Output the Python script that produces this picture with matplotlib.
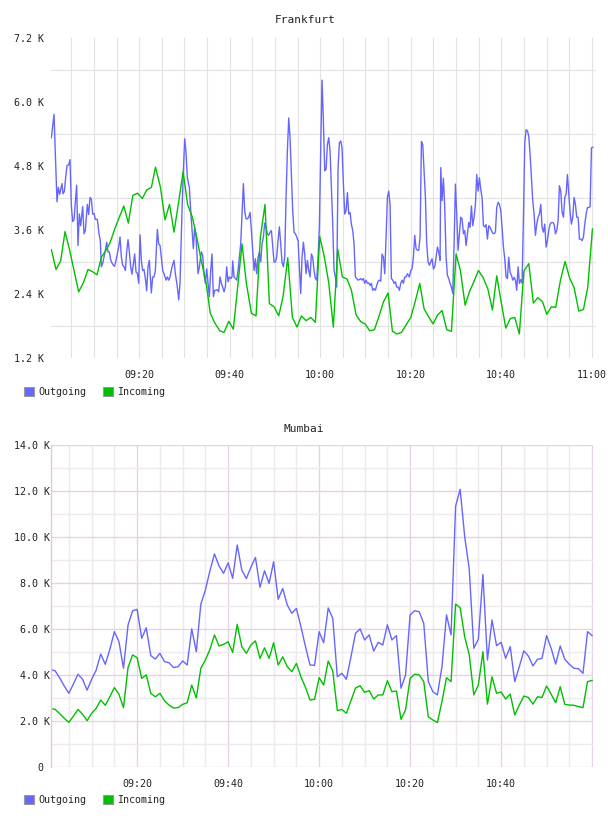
import matplotlib
matplotlib.use("Agg")
import matplotlib.pyplot as plt
from matplotlib.patches import Patch

# times are minutes after 09:00, values are in K

# Frankfurt outgoing
fra_out_t = [0.59, 1.18, 1.47, 1.84, 2.13, 2.43, 2.65, 2.94, 3.16, 3.46,
             3.75, 4.05, 4.42, 4.71, 5.01, 5.30, 5.60, 6.18, 6.48, 6.77,
             7.07, 7.51, 7.81, 8.10, 8.54, 8.84, 9.13, 9.43, 9.72, 10.02,
             10.31, 10.75, 11.12, 11.41, 11.64, 11.93, 12.22, 12.52, 12.81, 13.11,
             13.40, 13.70, 13.99, 14.29, 14.58, 15.02, 15.47, 15.76, 16.06, 16.35,
             16.65, 16.94, 17.23, 17.53, 17.82, 18.12, 18.41, 18.71, 19.00, 19.30,
             19.59, 19.89, 20.18, 20.48, 20.77, 21.07, 21.36, 21.65, 21.95, 22.24,
             22.68, 22.98, 23.27, 23.57, 24.01, 24.30, 24.60, 24.89, 25.19, 25.48,
             25.93, 26.22, 26.52, 26.81, 27.25, 27.69, 27.99, 28.43, 28.73, 29.02,
             29.46, 29.76, 30.05, 30.35, 30.64, 31.08, 31.38, 31.67, 31.97, 32.26,
             32.56, 33.00, 33.29, 33.73, 34.03, 34.32, 34.62, 34.91, 35.21, 35.50,
             35.80, 36.09, 36.39, 36.68, 36.98, 37.27, 37.56, 37.86, 38.15, 38.45,
             38.74, 39.04, 39.33, 39.63, 39.92, 40.22, 40.51, 40.66, 40.96, 41.25,
             41.55, 41.84, 42.13, 42.43, 42.72, 43.02, 43.31, 43.61, 43.90, 44.20,
             44.49, 44.79, 45.08, 45.38, 45.67, 45.96, 46.26, 46.55, 46.85, 47.14,
             47.44, 47.73, 48.03, 48.32, 48.62, 48.91, 49.21, 49.50, 49.80, 50.09,
             50.38, 50.68, 50.97, 51.27, 51.56, 51.86, 52.15, 52.45, 52.74, 53.04,
             53.33, 53.63, 53.92, 54.21, 54.51, 54.80, 55.10, 55.39, 55.69, 55.98,
             56.28, 56.57, 56.87, 57.16, 57.46, 57.75, 58.05, 58.34, 58.63, 58.93,
             59.22, 59.52, 59.81, 60.11, 60.40, 60.70, 60.99, 61.29, 61.58, 61.88,
             62.17, 62.46, 62.76, 63.05, 63.35, 63.64, 63.94, 64.23, 64.53, 64.82,
             65.12, 65.41, 65.71, 66.00, 66.30, 66.59, 66.88, 67.18, 67.47, 67.77,
             68.06, 68.36, 68.65, 68.95, 69.24, 69.54, 69.83, 70.13, 70.42, 70.71,
             71.01, 71.30, 71.60, 71.89, 72.19, 72.48, 72.78, 73.07, 73.37, 73.66,
             73.96, 74.25, 74.55, 74.84, 75.13, 75.43, 75.72, 76.02, 76.31, 76.61,
             76.90, 77.20, 77.49, 77.79, 78.08, 78.38, 78.67, 78.96, 79.26, 79.70,
             80.00, 80.29, 80.59, 80.88, 81.18, 81.47, 81.77, 82.06, 82.36, 82.65,
             82.95, 83.24, 83.53, 83.83, 84.12, 84.42, 84.71, 85.01, 85.30, 85.60,
             85.89, 86.19, 86.48, 86.63, 86.92, 87.22, 87.51, 87.81, 88.10, 88.40,
             88.69, 88.99, 89.28, 89.58, 89.87, 90.16, 90.46, 90.75, 91.05, 91.34,
             91.64, 91.93, 92.23, 92.52, 92.82, 93.11, 93.41, 93.70, 93.99, 94.29,
             94.58, 94.88, 95.17, 95.47, 95.76, 96.06, 96.35, 96.65, 96.94, 97.24,
             97.53, 97.83, 98.12, 98.41, 98.71, 99.00, 99.30, 99.59, 99.89, 100.18,
             100.48, 100.77, 101.07, 101.36, 101.66, 101.95, 102.25, 102.54, 102.83, 103.13,
             103.42, 103.72, 104.01, 104.31, 104.60, 104.90, 105.19, 105.49, 105.78, 106.08,
             106.37, 106.66, 106.96, 107.25, 107.55, 107.84, 108.14, 108.43, 108.73, 109.02,
             109.32, 109.61, 109.91, 110.20, 110.49, 110.79, 111.08, 111.38, 111.67, 111.97,
             112.26, 112.56, 112.85, 113.15, 113.44, 113.74, 114.03, 114.33, 114.62, 114.92,
             115.21, 115.50, 115.80, 116.09, 116.39, 116.68, 116.98, 117.27, 117.57, 117.86,
             118.16, 118.45, 118.75, 119.04, 119.34, 119.63, 119.93, 120.22]
fra_out_v = [5.33, 5.77, 5.02, 4.13, 4.40, 4.27, 4.36, 4.47, 4.28, 4.32,
             4.58, 4.81, 4.82, 4.92, 4.05, 3.76, 3.79, 4.44, 3.31, 3.90,
             3.68, 4.04, 3.53, 3.59, 4.08, 3.89, 4.21, 4.18, 3.90, 3.91,
             3.80, 3.80, 3.53, 3.40, 2.91, 2.97, 3.09, 3.22, 3.37, 3.19,
             3.19, 3.04, 2.98, 2.94, 2.92, 3.09, 3.28, 3.47, 3.09, 2.94,
             2.91, 2.84, 3.19, 3.42, 3.19, 2.91, 2.77, 2.97, 3.15, 2.81,
             2.79, 2.60, 3.51, 3.02, 2.84, 2.86, 2.69, 2.46, 2.91, 3.03,
             2.42, 2.72, 2.72, 2.84, 3.61, 3.34, 3.31, 3.09, 2.84, 2.78,
             2.66, 2.72, 2.66, 2.72, 2.91, 3.03, 2.78, 2.53, 2.29, 2.60,
             3.96, 4.71, 5.31, 5.05, 4.58, 4.40, 3.96, 3.62, 3.25, 3.65,
             3.47, 2.78, 2.91, 3.19, 3.12, 2.78, 2.60, 2.87, 2.60, 2.35,
             2.84, 3.15, 2.35, 2.47, 2.47, 2.48, 2.44, 2.72, 2.60, 2.53,
             2.44, 2.53, 2.91, 2.63, 2.72, 2.69, 2.72, 3.02, 2.72, 2.69,
             2.66, 2.84, 3.09, 3.34, 3.90, 4.47, 3.96, 3.81, 3.81, 3.84,
             3.93, 3.59, 3.22, 2.84, 3.06, 2.78, 3.09, 3.19, 3.00, 3.34,
             3.47, 3.73, 3.65, 3.53, 3.50, 3.56, 3.59, 3.31, 3.00, 3.00,
             3.09, 3.40, 3.66, 3.34, 3.00, 2.91, 3.09, 4.21, 5.08, 5.70,
             5.33, 4.64, 3.96, 3.56, 3.53, 3.47, 3.40, 2.91, 2.41, 3.09,
             3.37, 3.15, 2.78, 3.03, 2.84, 2.72, 3.15, 3.09, 2.84, 2.69,
             2.66, 3.09, 3.65, 5.14, 6.41, 5.64, 4.71, 4.74, 5.20, 5.33,
             5.08, 4.40, 3.71, 2.84, 2.72, 2.53, 4.77, 5.23, 5.27, 5.14,
             4.46, 3.90, 3.96, 4.30, 3.90, 3.93, 3.71, 3.59, 3.34, 2.72,
             2.69, 2.66, 2.67, 2.69, 2.66, 2.69, 2.60, 2.66, 2.60, 2.61,
             2.56, 2.60, 2.47, 2.50, 2.47, 2.56, 2.64, 2.66, 2.64, 3.15,
             3.09, 2.78, 3.47, 4.21, 4.33, 4.08, 2.69, 2.66, 2.60, 2.63,
             2.53, 2.53, 2.47, 2.60, 2.66, 2.60, 2.72, 2.72, 2.78, 2.72,
             2.84, 2.87, 3.09, 3.50, 3.25, 3.22, 3.22, 3.47, 5.26, 5.20,
             4.71, 4.21, 3.34, 3.00, 2.94, 3.00, 3.06, 2.87, 2.91, 3.09,
             3.28, 3.19, 3.03, 4.77, 4.15, 4.57, 4.02, 3.09, 2.75, 2.69,
             2.60, 2.53, 2.41, 3.34, 4.46, 3.90, 3.22, 3.53, 3.84, 3.81,
             3.53, 3.59, 3.31, 3.53, 3.74, 3.65, 4.05, 3.68, 3.84, 4.08,
             4.64, 4.33, 4.58, 4.36, 4.21, 3.68, 3.66, 3.70, 3.43, 3.68,
             3.65, 3.59, 3.54, 3.53, 3.56, 4.02, 4.12, 4.08, 3.96, 3.65,
             3.28, 3.06, 2.72, 2.69, 3.09, 2.81, 2.75, 2.66, 2.71, 2.66,
             2.47, 2.91, 2.60, 2.67, 2.60, 3.84, 5.23, 5.48, 5.46, 5.36,
             5.02, 4.58, 4.15, 3.90, 3.50, 3.71, 3.84, 3.90, 4.08, 3.65,
             3.56, 3.71, 3.28, 3.40, 3.59, 3.71, 3.74, 3.74, 3.71, 3.53,
             3.59, 3.77, 4.43, 4.33, 3.93, 3.84, 4.21, 4.27, 4.64, 4.27,
             3.93, 3.71, 3.84, 4.21, 4.08, 3.84, 3.84, 3.43, 3.43, 3.40,
             3.47, 3.71, 3.90, 4.02, 4.02, 4.04, 5.14, 5.15]

# Frankfurt incoming
fra_in_t = [0.59, 1.62, 2.65, 3.61, 4.64, 5.60, 6.63, 7.66, 8.69, 9.65,
            10.68, 11.64, 12.67, 13.60, 14.60, 15.60, 16.60, 17.60, 18.60, 19.67,
            20.70, 21.65, 22.70, 23.60, 24.70, 25.70, 26.70, 27.70, 28.70, 29.70,
            30.70, 31.75, 32.70, 33.70, 34.80, 35.70, 36.75, 37.80, 38.75, 39.80,
            40.80, 41.69, 42.72, 43.68, 44.79, 45.82, 46.77, 47.80, 48.76, 49.80,
            50.83, 51.78, 52.82, 53.85, 54.88, 55.84, 56.87, 57.90, 58.93, 59.89,
            60.92, 61.88, 62.90, 63.87, 64.90, 65.93, 66.89, 67.92, 68.95, 69.90,
            70.94, 71.97, 72.93, 73.96, 74.99, 75.95, 76.98, 77.94, 78.97, 80.00,
            80.96, 81.99, 82.95, 83.98, 84.93, 85.97, 86.92, 87.95, 88.99, 90.02,
            90.98, 92.01, 92.96, 94.00, 94.95, 95.98, 97.02, 98.05, 99.00, 100.04,
            101.00, 102.00, 102.98, 104.00, 105.00, 106.08, 107.10, 108.07, 109.10, 110.05,
            111.09, 112.04, 113.08, 114.10, 115.14, 116.10, 117.13, 118.16, 119.10, 120.15]
fra_in_v = [3.23, 2.86, 3.02, 3.57, 3.22, 2.84, 2.44, 2.61, 2.86, 2.82,
            2.76, 3.09, 3.22, 3.37, 3.62, 3.84, 4.05, 3.73, 4.25, 4.29,
            4.19, 4.35, 4.40, 4.78, 4.40, 3.79, 4.08, 3.56, 4.12, 4.69,
            4.08, 3.84, 3.47, 3.03, 2.60, 2.04, 1.85, 1.71, 1.68, 1.89,
            1.74, 2.47, 3.34, 2.60, 2.04, 1.99, 3.46, 4.08, 2.22, 2.16,
            1.99, 2.35, 3.08, 1.96, 1.78, 1.99, 1.90, 1.96, 1.87, 3.48,
            3.09, 2.61, 1.78, 3.24, 2.72, 2.68, 2.47, 2.01, 1.88, 1.84,
            1.71, 1.73, 1.97, 2.25, 2.42, 1.70, 1.65, 1.68, 1.82, 1.96,
            2.25, 2.60, 2.12, 1.97, 1.84, 2.01, 2.09, 1.73, 1.70, 3.15,
            2.84, 2.19, 2.44, 2.64, 2.84, 2.71, 2.50, 2.10, 2.74, 2.22,
            1.76, 1.94, 1.96, 1.65, 2.83, 2.97, 2.23, 2.33, 2.26, 2.02,
            2.16, 2.15, 2.66, 3.01, 2.69, 2.52, 2.08, 2.11, 2.52, 3.62]

# Mumbai, one sample per minute from 09:01 to 11:00
mum_t = list(range(1, 121))
mum_out_v = [4.23, 4.16, 3.85, 3.50, 3.19, 3.60, 4.02, 3.80, 3.33, 3.80,
             4.20, 4.90, 4.45, 5.10, 5.87, 5.44, 4.28, 6.16, 6.78, 6.84,
             5.58, 6.04, 4.83, 4.68, 4.93, 4.57, 4.52, 4.31, 4.35, 4.60,
             4.42, 5.99, 5.00, 7.07, 7.68, 8.52, 9.25, 8.73, 8.41, 8.86,
             8.19, 9.64, 8.55, 8.18, 8.67, 9.10, 7.80, 8.52, 7.97, 8.91,
             7.28, 7.75, 7.03, 6.67, 6.88, 6.09, 5.22, 4.42, 4.41, 5.87,
             5.39, 6.90, 6.45, 3.91, 4.06, 3.80, 4.78, 5.80, 5.99, 5.51,
             5.73, 5.03, 5.41, 5.29, 6.17, 5.51, 5.70, 3.41, 3.99, 6.60,
             6.78, 6.74, 6.23, 3.70, 3.26, 3.12, 4.35, 6.60, 5.73, 11.33,
             12.06, 10.00, 8.58, 5.15, 5.54, 8.36, 4.64, 6.38, 5.26, 5.41,
             4.71, 5.22, 3.70, 4.35, 5.04, 4.81, 4.38, 4.67, 4.71, 5.70,
             5.15, 4.46, 5.25, 4.67, 4.45, 4.28, 4.26, 4.06, 5.87, 5.70]
mum_in_v = [2.52, 2.49, 2.30, 2.10, 1.93, 2.20, 2.49, 2.28, 2.00, 2.32,
            2.54, 2.90, 2.67, 3.04, 3.44, 3.15, 2.57, 4.31, 4.86, 4.74,
            3.84, 3.99, 3.19, 3.04, 3.19, 2.87, 2.68, 2.55, 2.57, 2.71,
            2.78, 3.55, 2.99, 4.28, 4.64, 5.10, 5.73, 5.25, 5.32, 5.43,
            4.97, 6.19, 5.22, 4.93, 5.29, 5.47, 4.71, 5.17, 4.71, 5.39,
            4.42, 4.78, 4.35, 4.13, 4.49, 3.91, 3.45, 2.90, 2.93, 3.87,
            3.55, 4.59, 4.16, 2.44, 2.49, 2.32, 2.87, 3.42, 3.52, 3.23,
            3.31, 2.94, 3.12, 3.12, 3.74, 3.26, 3.29, 2.06, 2.47, 3.84,
            4.02, 3.99, 3.70, 2.17, 2.03, 1.92, 2.83, 3.87, 3.70, 7.07,
            6.91, 5.65, 4.86, 3.12, 3.55, 5.00, 2.72, 3.91, 3.19, 3.25,
            2.94, 3.16, 2.25, 2.68, 3.07, 3.01, 2.72, 3.04, 3.01, 3.51,
            3.15, 2.78, 3.48, 2.71, 2.68, 2.67, 2.61, 2.57, 3.70, 3.75]

time_ticks = [20, 40, 60, 80, 100, 120]
fra_time_labels = ['09:20', '09:40', '10:00', '10:20', '10:40', '11:00']
mum_time_labels = ['09:20', '09:40', '10:00', '10:20', '10:40', '']
fra_y_ticks = [1.2, 2.4, 3.6, 4.8, 6.0, 7.2]
fra_y_labels = ['1.2 K', '2.4 K', '3.6 K', '4.8 K', '6.0 K', '7.2 K']
mum_y_ticks = [0, 2, 4, 6, 8, 10, 12, 14]
mum_y_labels = ['0 ', '2.0 K', '4.0 K', '6.0 K', '8.0 K', '10.0 K', '12.0 K', '14.0 K']
series_names = ['Outgoing', 'Incoming']

BLUE = '#6666ff'
GREEN = '#00c000'
TXT = '#222222'

plt.rcParams['font.family'] = 'DejaVu Sans Mono'
W, H = 608, 816
fig = plt.figure(figsize=(W / 100, H / 100), dpi=100)

# ---- Frankfurt ----
ax1 = fig.add_axes([51.4 / W, 1 - 358 / H, 544.9 / W, 320 / H])
ax1.plot(fra_out_t, fra_out_v, color=BLUE, lw=1.0)
ax1.plot(fra_in_t, fra_in_v, color=GREEN, lw=1.0)
ax1.set_xlim(0.6, 121.0)
ax1.set_ylim(1.2, 7.2)
ax1.set_xticks(time_ticks)
ax1.set_xticklabels(fra_time_labels)
ax1.set_xticks(range(5, 121, 5), minor=True)
ax1.set_yticks(fra_y_ticks)
ax1.set_yticklabels(fra_y_labels)
ax1.set_yticks([1.8, 3.0, 4.2, 5.4, 6.6], minor=True)
ax1.grid(True, which='minor', color='#e2e2e2', lw=0.8)
ax1.grid(True, which='major', axis='x', color='#e2e2e2', lw=0.8)
ax1.set_axisbelow(True)
for s in ax1.spines.values():
    s.set_visible(False)
ax1.tick_params(which='both', length=0, labelsize=7.2, labelcolor=TXT)
ax1.tick_params(axis='y', pad=5.5)
ax1.tick_params(axis='x', pad=8.5)

# ---- Mumbai ----
ax2 = fig.add_axes([50.7 / W, 1 - 766.7 / H, 542.3 / W, 322 / H])
ax2.plot(mum_t, mum_out_v, color=BLUE, lw=1.0)
ax2.plot(mum_t, mum_in_v, color=GREEN, lw=1.0)
ax2.set_xlim(1.0, 120.2)
ax2.set_ylim(0, 14)
ax2.set_xticks(time_ticks)
ax2.set_xticklabels(mum_time_labels)
ax2.set_xticks(range(5, 121, 5), minor=True)
ax2.set_yticks(mum_y_ticks)
ax2.set_yticklabels(mum_y_labels)
ax2.set_yticks(range(1, 14, 2), minor=True)
ax2.grid(True, which='minor', color='#efeaef', lw=1.0)
ax2.grid(True, which='major', color='#e6d2e6', lw=1.0)
ax2.set_axisbelow(True)
for k, s in ax2.spines.items():
    if k == 'left':
        s.set_color('#e0c8e0')
        s.set_linewidth(1.0)
    else:
        s.set_visible(False)
ax2.tick_params(which='both', length=0, labelsize=7.2, labelcolor=TXT)
ax2.tick_params(axis='y', pad=0.5)
ax2.tick_params(axis='x', pad=8.5)

# titles
fig.text(305 / W, 1 - 20 / H, 'Frankfurt', ha='center', va='center', fontsize=8, color=TXT)
fig.text(304 / W, 1 - 429 / H, 'Mumbai', ha='center', va='center', fontsize=8, color=TXT)

# legends
for ypix in (392, 800):
    handles = [Patch(facecolor=BLUE, edgecolor='#999999', lw=0.8),
               Patch(facecolor=GREEN, edgecolor='#999999', lw=0.8)]
    fig.legend(handles, series_names, loc='center left',
               bbox_to_anchor=(24 / W, 1 - ypix / H), ncol=2, frameon=False,
               borderpad=0, borderaxespad=0, handlelength=1.0, handleheight=1.0,
               handletextpad=0.45, columnspacing=1.6, fontsize=7.2,
               labelcolor=TXT)

fig.savefig('out.png', dpi=100)
